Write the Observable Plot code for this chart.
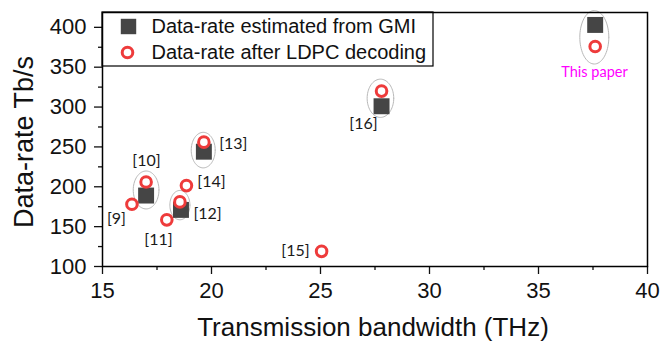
<!DOCTYPE html>
<html>
<head>
<meta charset="utf-8">
<script src="https://cdn.jsdelivr.net/npm/d3@7"></script>
<script src="https://cdn.jsdelivr.net/npm/@observablehq/plot@0.6"></script>
<style>
  html, body { margin: 0; padding: 0; background: #fff; }
  #chart { width: 660px; height: 342px; }
</style>
</head>
<body>
<div id="chart"></div>
<script>
// GMI-estimated data rates (squares)
const gmiX = [17.0, 18.6, 19.65, 27.8, 37.6];
const gmiY = [189, 171, 244, 301, 403];
// LDPC-decoded data rates (circles)
const ldpcX = [16.35, 17.0, 17.95, 18.55, 19.65, 18.85, 25.05, 27.8, 37.6];
const ldpcY = [178, 206, 158.5, 181, 256, 201.5, 119, 320, 376];
// reference labels
const refLabels = ["[9]", "[10]", "[11]", "[12]", "[13]", "[14]", "[15]", "[16]"];
const refLabelX = [15.64, 17.02, 17.57, 19.82, 21.0, 20.0, 23.85, 26.97];
const refLabelY = [160, 233, 134, 166, 254, 206.5, 119, 279];
const paperLabel = "This paper";
const paperLabelX = [37.57];
const paperLabelY = [344];
// grouping ellipses (center x, center y, radius x, radius y in data units)
const ellCx = [17.0, 18.55, 19.62, 27.75, 37.56];
const ellCy = [196, 177, 246, 311, 387.5];
const ellRx = [0.59, 0.46, 0.55, 0.61, 0.665];
const ellRy = [23.8, 18.4, 22.3, 24, 33.5];
// axis ticks
const xTicks = [15, 20, 25, 30, 35, 40];
const xMinor = [17.5, 22.5, 27.5, 32.5, 37.5];
const yTicks = [100, 150, 200, 250, 300, 350, 400];
const yMinor = [125, 175, 225, 275, 325, 375];
const legendLabels = ["Data-rate estimated from GMI", "Data-rate after LDPC decoding"];

const gmi = gmiX.map((x, i) => ({x, y: gmiY[i]}));
const ldpc = ldpcX.map((x, i) => ({x, y: ldpcY[i]}));
const refs = refLabels.map((t, i) => ({t, x: refLabelX[i], y: refLabelY[i]}));
const ellPts = [];
ellCx.forEach((cx, i) => {
  for (let k = 0; k <= 72; k++) {
    const a = (k / 72) * 2 * Math.PI;
    ellPts.push({e: i, x: cx + ellRx[i] * Math.cos(a), y: ellCy[i] + ellRy[i] * Math.sin(a)});
  }
});

const RED = "#ee3b3b";
const SQ = "#454545";
const FONT = "Liberation Sans, Arial, sans-serif";

const plot = Plot.plot({
  width: 660,
  height: 342,
  marginLeft: 102,
  marginRight: 13,
  marginTop: 12,
  marginBottom: 76,
  style: {fontFamily: FONT, background: "#fff", color: "#111"},
  x: {domain: [15, 40]},
  y: {domain: [100, 418.6]},
  marks: [
    Plot.line(ellPts, {x: "x", y: "y", z: "e", stroke: "#b8b8b8", strokeWidth: 1}),
    Plot.dot(gmi, {x: "x", y: "y", symbol: "square", r: 9, fill: SQ, stroke: "none"}),
    Plot.dot(ldpc, {x: "x", y: "y", r: 5.3, fill: "white", stroke: RED, strokeWidth: 3}),
    Plot.text(refs, {x: "x", y: "y", text: "t", fontSize: 16, fontFamily: "Lato, sans-serif", fill: "#1a1a1a"}),
    Plot.text([paperLabel], {x: paperLabelX, y: paperLabelY, text: d => d, fontSize: 14.5, fontFamily: "Lato, sans-serif", fill: "#ff00ff"}),
    Plot.axisX({ticks: xTicks, tickSize: 8, tickPadding: 8, fontSize: 22, strokeWidth: 1.3, label: null}),
    Plot.axisX({ticks: xMinor, tickSize: 4, text: null, label: null, strokeWidth: 1.3}),
    Plot.axisY({ticks: yTicks, tickSize: 8, tickPadding: 8, fontSize: 22, strokeWidth: 1.3, label: null}),
    Plot.axisY({ticks: yMinor, tickSize: 4, text: null, label: null, strokeWidth: 1.3}),
    Plot.frame({stroke: "#000", strokeWidth: 1.5}),
    // legend
    Plot.dot([legendLabels[0]], {frameAnchor: "top-left", dx: 26, dy: 14, symbol: "square", r: 8.7, fill: SQ}),
    Plot.dot([legendLabels[1]], {frameAnchor: "top-left", dx: 25, dy: 40, r: 5.3, fill: "white", stroke: RED, strokeWidth: 3}),
    Plot.text([legendLabels[0]], {frameAnchor: "top-left", dx: 49, dy: 14, text: d => d, textAnchor: "start", lineAnchor: "middle", fontSize: 20, fill: "#111"}),
    Plot.text([legendLabels[1]], {frameAnchor: "top-left", dx: 49, dy: 40, text: d => d, textAnchor: "start", lineAnchor: "middle", fontSize: 20, fill: "#111"})
  ]
});

const svg = d3.select(plot);
// legend box
svg.append("rect")
  .attr("x", 102).attr("y", 12).attr("width", 331).attr("height", 54)
  .attr("fill", "none").attr("stroke", "#000").attr("stroke-width", 1.2);

// axis titles
svg.append("text").attr("x", 373).attr("y", 336).attr("text-anchor", "middle")
  .attr("font-family", FONT).attr("font-size", 26).attr("fill", "#111")
  .text("Transmission bandwidth (THz)");
svg.append("text").attr("transform", "translate(33,142) rotate(-90)").attr("text-anchor", "middle")
  .attr("font-family", FONT).attr("font-size", 27).attr("fill", "#111")
  .text("Data-rate Tb/s");

document.getElementById("chart").appendChild(plot);
</script>
</body>
</html>
